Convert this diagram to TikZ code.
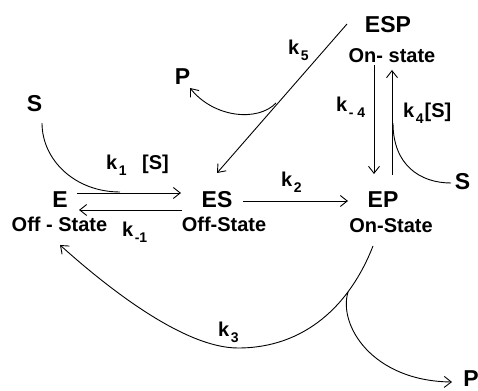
\documentclass[tikz,border=0pt]{standalone}
\usepackage{fontspec}
\setmainfont{Liberation Sans}
\usetikzlibrary{arrows.meta}

% lowered rate-constant index
\newcommand\ksub[1]{\kern1.5pt\raisebox{-6pt}{\fontsize{14}{14}\selectfont #1}}

\begin{document}
\begin{tikzpicture}[x=1pt,y=1pt,
  species/.style={font=\fontsize{23}{25}\selectfont\bfseries, inner sep=0pt, anchor=base},
  statelbl/.style={font=\fontsize{20}{22}\selectfont\bfseries, inner sep=0pt, anchor=base},
  rate/.style={font=\fontsize{20}{22}\selectfont\bfseries, inner sep=0pt, anchor=base west},
  rx/.style={line width=0.9pt, -{Straight Barb[length=7pt,width=11pt,line width=0.9pt]}},
  feed/.style={line width=0.9pt}]
\useasboundingbox (0,0) rectangle (478,390);

% species and their states
\node[species] (ESP) at (388,357) {ESP};
\node[statelbl] (ESPs) at (392,327) {On- state};
\node[species] (E) at (60,182) {E};
\node[statelbl] (Es) at (59.5,158) {Off - State};
\node[species] (ES) at (217,182) {ES};
\node[statelbl] (ESs) at (224,158) {Off-State};
\node[species] (EP) at (383,182) {EP};
\node[statelbl] (EPs) at (391,157) {On-State};
\node[species] (Sl) at (34.5,278) {S};
\node[species] (Sr) at (462.5,200) {S};
\node[species] (Pt) at (182.5,305) {P};
\node[species] (Pb) at (471,4) {P};

% rate constants
\node[rate] (k1) at (106,220) {k\ksub{1}};
\node[rate] (k1s) at (142,220) {[S]};
\node[rate] (km1) at (122,153) {k\ksub{-1}};
\node[rate] (k2) at (281,203) {k\ksub{2}};
\node[rate] (k5) at (288,335) {k\ksub{5}};
\node[rate] (km4) at (336,278) {k\ksub{- 4}};
\node[rate] (k4) at (403,272) {k\ksub{4}\kern1pt[S]};
\node[rate] (k3) at (218,53) {k\ksub{3}};

% connector end points
\coordinate (a1) at (77,197);  \coordinate (a2) at (181,197);
\coordinate (b1) at (182,180); \coordinate (b2) at (79,180);
\coordinate (c1) at (243,189); \coordinate (c2) at (348,189);
\coordinate (d1) at (347,366); \coordinate (d2) at (217,217);
\coordinate (t5) at (276,287); \coordinate (p1) at (190,302);
\coordinate (u1) at (374,325); \coordinate (u2) at (374,216);
\coordinate (v1) at (392,215); \coordinate (v2) at (392,320);
\coordinate (s1) at (42,267);  \coordinate (s2) at (120,198);
\coordinate (r1) at (393,267); \coordinate (r2) at (451,207);
\coordinate (e1) at (373,144); \coordinate (e0) at (238,42);
\coordinate (e2) at (60,145);
\coordinate (f1) at (348,98);  \coordinate (f2) at (452,8);

% binding / release of substrate
\draw[rx] (a1) -- (a2);
\draw[rx] (b1) -- (b2);
\draw[feed] (s1) .. controls (42,230) and (75,198) .. (s2);

% conversion to the on-state
\draw[rx] (c1) -- (c2);

% ESP formation and breakdown
\draw[rx] (u1) -- (u2);
\draw[rx] (v1) -- (v2);
\draw[feed] (r1) .. controls (393,225) and (420,207) .. (r2);

% ESP -> ES with product release
\draw[rx] (d1) -- (d2);
\draw[rx] (t5) .. controls (258,268) and (214,272) .. (p1);

% EP -> E with product release
\draw[rx] (e1) .. controls (350,85) and (305,42) .. (e0)
               .. controls (185,42) and (110,100) .. (e2);
\draw[rx] (f1) .. controls (338,65) and (372,9) .. (f2);
\end{tikzpicture}
\end{document}
